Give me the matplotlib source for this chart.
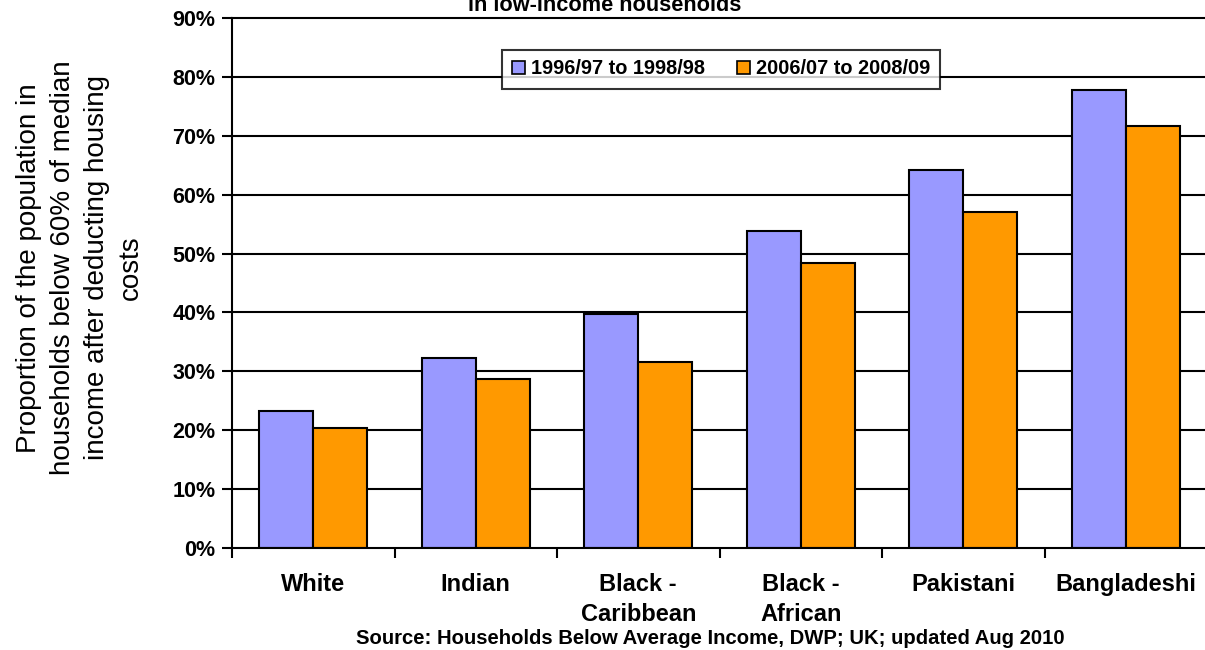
import matplotlib
matplotlib.use("Agg")
import matplotlib.pyplot as plt
import numpy as np
from matplotlib.ticker import FixedLocator, PercentFormatter

plt.rcParams['font.family'] = ['Liberation Sans', 'DejaVu Sans']

categories = ["White", "Indian", "Black -\nCaribbean", "Black -\nAfrican", "Pakistani", "Bangladeshi"]
series_names = ["1996/97 to 1998/98", "2006/07 to 2008/09"]
values_early = [23.3, 32.3, 39.7, 53.8, 64.2, 77.8]
values_late = [20.4, 28.7, 31.6, 48.4, 57.0, 71.6]
colors = ["#9999FF", "#FF9900"]
title = "in low-income households"
ylabel = "Proportion of the population in\nhouseholds below 60% of median\nincome after deducting housing\ncosts"
source = "Source: Households Below Average Income, DWP; UK; updated Aug 2010"

fig = plt.figure(figsize=(12.05, 6.5), dpi=100)
ax = fig.add_axes([232/1205, 1-548/650, 975/1205, 530/650])

x = np.arange(len(categories))
w = 1/3
ax.bar(x - w/2, values_early, width=w, color=colors[0], edgecolor="black", linewidth=1.5,
       label=series_names[0], zorder=3)
ax.bar(x + w/2, values_late, width=w, color=colors[1], edgecolor="black", linewidth=1.5,
       label=series_names[1], zorder=3)

ax.set_xlim(-0.5, len(categories) - 0.5)
ax.set_ylim(0, 90)
ax.set_yticks(np.arange(0, 91, 10))
ax.yaxis.set_major_formatter(PercentFormatter(decimals=0))
for yv in np.arange(10, 91, 10):
    ax.axhline(yv, color="black", linewidth=1.5, zorder=1, clip_on=False)

ax.xaxis.set_major_locator(FixedLocator(np.arange(-0.5, len(categories), 1.0)))
ax.xaxis.set_minor_locator(FixedLocator(x))
ax.set_xticklabels([], minor=False)
ax.set_xticklabels(categories, minor=True, fontsize=17, fontweight="bold", linespacing=1.38)
ax.tick_params(axis="x", which="major", direction="out", length=7, width=1.5)
ax.tick_params(axis="x", which="minor", length=0, pad=18)
ax.tick_params(axis="y", direction="out", length=7, width=1.5, labelsize=15.5, pad=5)
for lab in ax.get_yticklabels():
    lab.set_fontweight("bold")

for s in ["top", "right"]:
    ax.spines[s].set_visible(False)
for s in ["left", "bottom"]:
    ax.spines[s].set_linewidth(1.5)
    ax.spines[s].set_zorder(4)

leg = ax.legend(loc="center", bbox_to_anchor=(721/1205, 1-69/650), bbox_transform=fig.transFigure,
                ncol=2, prop={"weight": "bold", "size": 14.4}, frameon=True, fancybox=False,
                edgecolor="black", handlelength=0.65, handleheight=0.65, handletextpad=0.3,
                columnspacing=1.6, borderpad=0.5)
leg.get_frame().set_linewidth(1.5)
leg.set_zorder(5)
for h in leg.legend_handles:
    h.set_linewidth(1.2)

fig.text(605/1205, 1-11/650, title, ha="center", va="baseline", fontsize=15.7, fontweight="bold")
fig.text(80/1205, 1-268/650, ylabel, rotation=90, ha="center", va="center", fontsize=20,
         linespacing=1.4, multialignment="center")
fig.text(710/1205, 1-638/650, source, ha="center", va="center", fontsize=14.6, fontweight="bold")

fig.savefig("out.png", dpi=100)
